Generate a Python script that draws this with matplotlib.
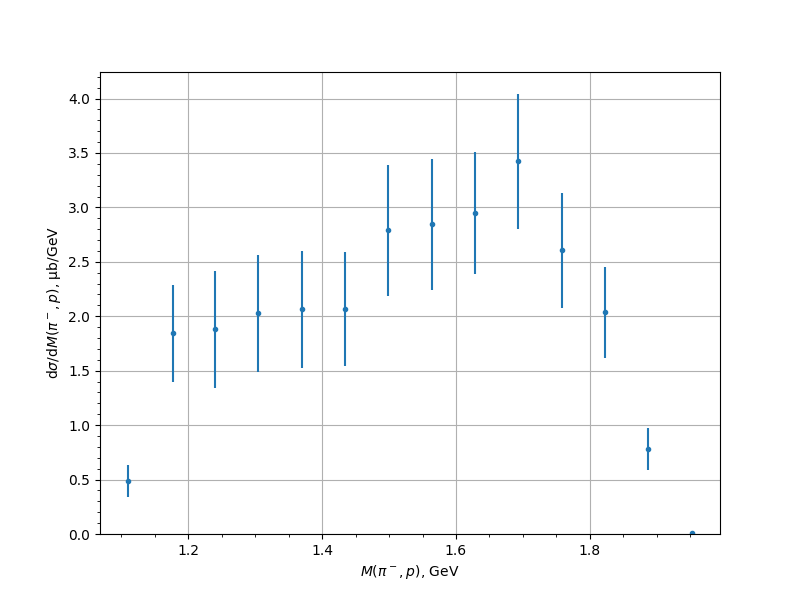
import matplotlib
matplotlib.use("Agg")
import matplotlib.pyplot as plt

mass = [1.1104, 1.1776, 1.2403, 1.3045, 1.3700, 1.4343, 1.4985,
        1.5640, 1.6284, 1.6925, 1.7582, 1.8224, 1.8866, 1.9522]
xsec = [0.486, 1.844, 1.881, 2.028, 2.064, 2.064, 2.789,
        2.844, 2.945, 3.422, 2.606, 2.037, 0.78, 0.01]
err = [0.147, 0.445, 0.537, 0.537, 0.537, 0.523, 0.60,
       0.60, 0.56, 0.62, 0.528, 0.42, 0.19, 0.0]

fig, ax = plt.subplots(figsize=(8, 6), dpi=100)
ax.errorbar(mass, xsec, yerr=err, fmt='.')
ax.set_ylim(0, None)
ax.set_xlabel(r'$M(\pi^-, p)$, GeV')
ax.set_ylabel(r'd$\sigma$/d$M(\pi^-, p)$, μb/GeV')
ax.grid(True)
ax.minorticks_on()
fig.savefig("out.png")
